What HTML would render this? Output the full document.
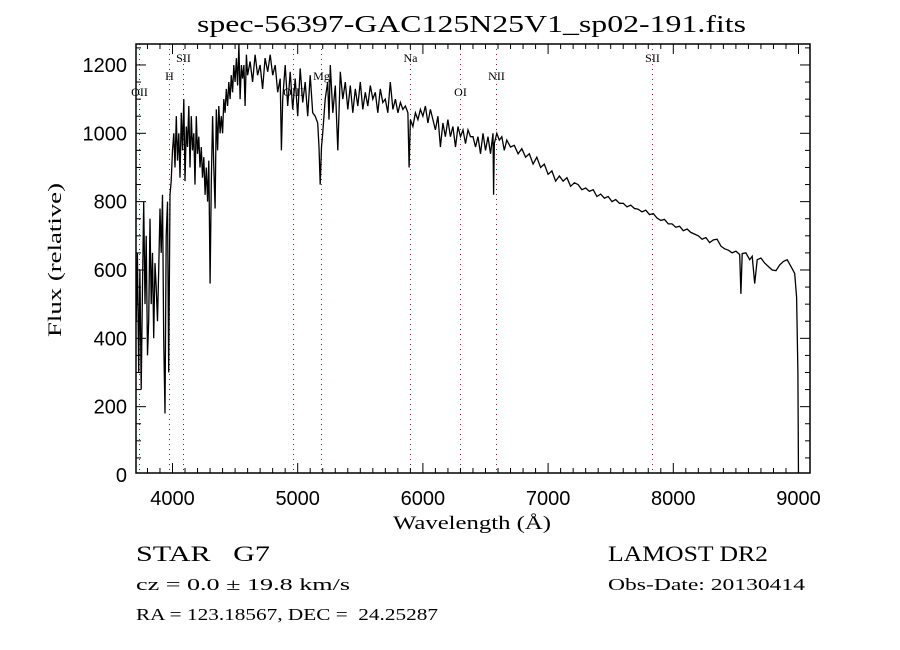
<!DOCTYPE html>
<html><head><meta charset="utf-8"><style>
html,body{margin:0;padding:0;background:#fff;}
svg{display:block;}
text{font-family:"Liberation Serif",serif;fill:#000;}
.tk{font-family:"Liberation Sans",sans-serif;font-size:20px;}
.ln{font-size:12px;}
</style></head><body>
<svg id="chart" width="900" height="650" viewBox="0 0 900 650">
<rect x="0" y="0" width="900" height="650" fill="#fff"/>
<text x="197" y="32" textLength="549" lengthAdjust="spacingAndGlyphs" font-size="24">spec-56397-GAC125N25V1_sp02-191.fits</text>
<g id="lines"></g>
<g id="spec"></g>
<g id="axes"></g>
<text x="393" y="529" textLength="158" lengthAdjust="spacingAndGlyphs" font-size="19">Wavelength (Å)</text>
<text x="0" y="0" transform="translate(61,337) rotate(-90)" textLength="154" lengthAdjust="spacingAndGlyphs" font-size="19">Flux (relative)</text>
<text x="136" y="561" font-size="22" textLength="134" lengthAdjust="spacingAndGlyphs" xml:space="preserve">STAR   G7</text>
<text x="136" y="590" font-size="17" textLength="214" lengthAdjust="spacingAndGlyphs">cz = 0.0 ± 19.8 km/s</text>
<text x="136" y="620" font-size="17" textLength="302" lengthAdjust="spacingAndGlyphs" xml:space="preserve">RA = 123.18567, DEC =  24.25287</text>
<text x="608" y="561" font-size="22" textLength="160" lengthAdjust="spacingAndGlyphs">LAMOST DR2</text>
<text x="608" y="590" font-size="17" textLength="197" lengthAdjust="spacingAndGlyphs">Obs-Date: 20130414</text>
</svg>
<script>
const wavelengths = [3710,3720,3730,3740,3750,3760,3770,3780,3790,3800,3810,3820,3830,3840,3850,3860,3870,3880,3890,3900,3910,3920,3930,3940,3950,3960,3970,3980,3990,4000,
4010,4020,4030,4040,4050,4060,4070,4080,4090,4100,4110,4120,4130,4140,4150,4160,4170,4180,4190,4200,4210,4220,4230,4240,4250,4260,4270,4280,4290,4300,4310,4320,4330,4340,4350,4360,4370,4380,4390,4400,4410,4420,4430,4440,4450,4460,4470,4480,4490,4500,4510,4520,4530,4540,4550,4560,4570,4580,4590,4600,
4620,4640,4660,4680,4700,4720,4740,4760,4780,4800,4820,4840,4860,4870,4880,4900,4920,4940,4960,4980,5000,5020,5040,5060,5080,5100,5120,5140,5160,5170,5180,5190,5200,5220,5240,5250,5260,5280,5300,5320,5340,5360,5380,5400,5420,5440,5460,5480,5500,5520,5540,5560,5580,5600,5620,5640,5660,5680,5700,5720,5740,5760,5780,5800,5820,5840,5860,5880,5890,5900,
5920,5940,5960,5980,6000,6020,6040,6060,6080,6100,6120,6140,6160,6180,6200,6220,6240,6260,6280,6300,6320,6340,6360,6380,6400,6420,6440,6460,6480,6500,6520,6540,6560,6565,6570,6590,6610,6630,6650,6670,6700,6730,6760,6790,6820,6850,6880,6910,6940,6970,7000,7030,7060,7090,7120,7150,7180,7210,7240,7270,7300,7330,7360,7390,7420,7450,7480,7510,7540,7570,7600,7630,7660,7690,7720,7750,7780,7810,7840,7870,7900,7930,7960,7990,8020,8050,8080,8110,8140,8170,8200,8230,8260,8290,8320,8350,8380,8410,8440,8470,8500,8530,8540,8550,8580,8610,8630,8650,8670,8700,8730,8760,8790,8820,8850,8880,8910,8940,8970,8985,8995,9000];
const fluxValues = [450,650,300,600,250,550,800,500,700,350,450,750,500,650,400,620,550,450,600,780,650,820,400,180,700,800,300,820,860,950,
1000,900,1050,920,1000,870,1060,950,1100,860,1020,960,1080,900,1050,950,1000,850,1050,940,990,900,960,870,930,820,900,800,920,560,860,1050,900,780,1070,950,1080,1000,1050,1000,1100,1060,1130,1080,1150,1100,1170,1120,1200,1150,1220,1140,1260,1100,1200,1160,1200,1080,1230,1170,
1210,1150,1230,1170,1200,1130,1220,1180,1230,1170,1200,1120,1160,950,1100,1200,1080,1180,1070,1160,1050,1190,1090,1150,1050,1170,1060,1050,1030,960,850,960,1000,1100,1150,1040,1200,1060,1140,950,1180,1100,1150,1070,1140,1060,1130,1080,1150,1070,1120,1080,1140,1100,1120,1060,1130,1090,1100,1060,1150,1070,1100,1060,1090,1070,1080,1060,900,1040,
1020,1060,1040,1070,1050,1080,1030,1070,1040,1010,1050,960,1030,990,1040,990,1020,960,1020,990,1010,970,1010,990,990,960,990,940,1000,950,990,940,1000,820,970,1000,980,990,950,980,960,965,940,955,930,940,910,930,900,910,880,890,860,875,860,870,845,855,850,835,840,830,835,815,822,810,815,800,806,795,795,785,790,780,778,770,775,762,765,752,745,748,735,735,725,728,715,720,710,705,700,690,695,680,688,690,670,662,658,650,655,645,530,648,650,630,640,560,630,635,620,610,600,598,615,625,630,610,590,520,300,-20];
const xTickLabels = ["4000","5000","6000","7000","8000","9000"];
const yTickLabels = ["0","200","400","600","800","1000","1200"];
const lineWaves = [3732,3970,4081,4962,5183,5894,6296,6584,7830];
const lineNames = ["OII","H","SII","OIII","Mg","Na","OI","NII","SII"];
const lineLevels = [3,1,0,3,1,0,3,1,0];

const NS="http://www.w3.org/2000/svg";
const L=136,R=810,T=44,B=473;
const xs=w=>172.5+(w-4000)*0.1252;
const ys=v=>475-v*0.3417;
function mk(tag,attrs,parent){const e=document.createElementNS(NS,tag);for(const k in attrs)e.setAttribute(k,attrs[k]);parent.appendChild(e);return e;}

const lg=document.getElementById('lines');
lineWaves.forEach((w,i)=>{
  const x=Math.round(xs(w))+0.5;
  const d=mk('line',{x1:x,y1:T,x2:x,y2:B,stroke:'#8b2020','stroke-width':1,'stroke-dasharray':'1,4'},lg);
  
  
  const t=mk('text',{x:x,y:62+[0,18,0,34][lineLevels[i]],'text-anchor':'middle',class:'ln'},lg);
  t.textContent=lineNames[i];
  
  
});

const sg=document.getElementById('spec');
mk('clipPath',{id:'clip'},mk('defs',{},sg));
const cr=document.createElementNS(NS,'rect');cr.setAttribute('x',L);cr.setAttribute('y',T);cr.setAttribute('width',R-L);cr.setAttribute('height',B-T);
sg.querySelector('clipPath').appendChild(cr);
const pts=wavelengths.map((w,i)=>xs(w).toFixed(1)+','+ys(fluxValues[i]).toFixed(1)).join(' ');
const pl=mk('polyline',{points:pts,fill:'none',stroke:'#000','stroke-width':1.3,'clip-path':'url(#clip)'},sg);



const ag=document.getElementById('axes');
const box=mk('rect',{x:L,y:T,width:R-L,height:B-T,fill:'none',stroke:'#000','stroke-width':1.5},ag);


for(let w=3800;w<=9050;w+=100){
  const x=xs(w); if(x<L||x>R) continue;
  const len=(w%1000===0)?10:5;
  mk('line',{x1:x,y1:B,x2:x,y2:B-len,stroke:'#000','stroke-width':1},ag);
  mk('line',{x1:x,y1:T,x2:x,y2:T+len,stroke:'#000','stroke-width':1},ag);
}
for(let v=0;v<=1250;v+=50){
  const y=ys(v); if(y<T||y>B) continue;
  const len=(v%200===0)?10:5;
  mk('line',{x1:L,y1:y,x2:L+len,y2:y,stroke:'#000','stroke-width':1},ag);
  mk('line',{x1:R,y1:y,x2:R-len,y2:y,stroke:'#000','stroke-width':1},ag);
}
xTickLabels.forEach(s=>{
  const t=mk('text',{x:xs(+s),y:505,'text-anchor':'middle',class:'tk'},ag);
  t.textContent=s;
  
  
});
yTickLabels.forEach(s=>{
  const t=mk('text',{x:127,y:ys(+s)+7,'text-anchor':'end',class:'tk'},ag);
  t.textContent=s;
  
  
});
</script>
</body></html>
